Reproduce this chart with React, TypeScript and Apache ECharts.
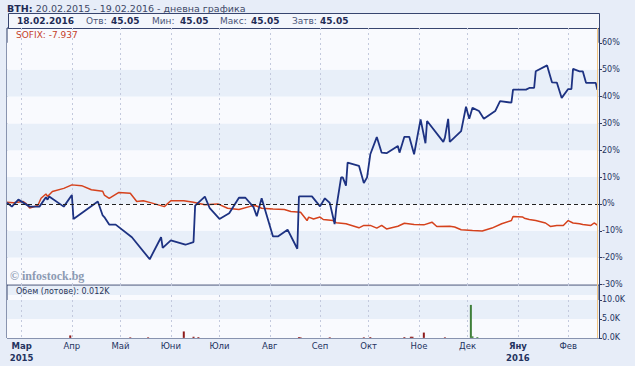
import React, { useEffect, useRef } from 'react';
import * as echarts from 'echarts';

// ---------- data ----------
const bthDates = [
  '2015-02-20','2015-02-23','2015-02-27','2015-03-06','2015-03-12','2015-03-16','2015-03-17','2015-03-18','2015-03-27','2015-04-01',
  '2015-04-02','2015-04-17','2015-04-20','2015-04-21','2015-04-24','2015-04-28','2015-05-08','2015-05-19','2015-05-26','2015-05-27',
  '2015-06-01','2015-06-10','2015-06-15','2015-06-16','2015-06-22','2015-06-25','2015-07-01','2015-07-07','2015-07-13','2015-07-17',
  '2015-07-22','2015-07-24','2015-07-27','2015-08-03','2015-08-06','2015-08-12','2015-08-18','2015-08-19','2015-08-27','2015-09-01',
  '2015-09-04','2015-09-07','2015-09-10','2015-09-11','2015-09-14','2015-09-15','2015-09-17','2015-09-18','2015-09-25','2015-09-28',
  '2015-09-30','2015-10-02','2015-10-06','2015-10-09','2015-10-12','2015-10-19','2015-10-20','2015-10-23','2015-10-26','2015-10-29',
  '2015-11-02','2015-11-05','2015-11-06','2015-11-16','2015-11-17','2015-11-19','2015-11-20','2015-11-27','2015-11-30','2015-12-02',
  '2015-12-04','2015-12-08','2015-12-11','2015-12-18','2015-12-21','2015-12-28','2015-12-29','2016-01-06','2016-01-08','2016-01-11',
  '2016-01-12','2016-01-19','2016-01-22','2016-01-25','2016-01-28','2016-02-01','2016-02-03','2016-02-04','2016-02-08','2016-02-10',
  '2016-02-12','2016-02-18','2016-02-19'
];
const bthValues = [
  0.5,-1.0,1.6,-1.0,-1.0,2.5,1.6,2.8,-1.0,3.3,
  -5.6,0.9,-4.3,-4.9,-7.7,-7.7,-12.4,-20.6,-12.4,-16.4,
  -13.6,-15.2,-14.2,-0.6,2.7,-1.6,-5.6,-3.5,2.3,2.3,
  -1.2,-4.6,2.1,-12.1,-12.1,-9.6,-16.7,2.8,2.8,-0.9,
  2.1,0.4,-7.5,-1.6,9.9,9.9,6.8,15.4,14.2,7.8,
  9.9,18.5,24.9,19.1,18.9,21.6,19.1,25.0,25.0,18.5,
  31.5,22.6,30.9,23.1,24.7,31.7,23.1,27.1,36.2,31.7,
  35.8,34.6,31.7,34.6,38.3,37.7,42.6,42.6,43.2,43.2,
  49.4,51.6,45.3,45.2,39.5,42.8,42.8,50.3,49.4,49.4,
  45.1,45.1,42.5
];

const sofixDates = [
  '2015-02-20','2015-02-24','2015-03-02','2015-03-04','2015-03-06','2015-03-11','2015-03-13','2015-03-16','2015-03-17','2015-03-20',
  '2015-03-27','2015-04-01','2015-04-07','2015-04-13','2015-04-20','2015-04-21','2015-04-24','2015-04-30','2015-05-07','2015-05-11',
  '2015-05-15','2015-05-20','2015-05-28','2015-06-01','2015-06-09','2015-06-15','2015-06-22','2015-06-30','2015-07-06','2015-07-13',
  '2015-07-20','2015-07-23','2015-07-27','2015-08-03','2015-08-10','2015-08-14','2015-08-20','2015-08-24','2015-08-25','2015-08-28',
  '2015-09-01','2015-09-03','2015-09-09','2015-09-11','2015-09-17','2015-09-22','2015-09-25','2015-09-28','2015-10-02','2015-10-06',
  '2015-10-09','2015-10-12','2015-10-19','2015-10-23','2015-10-29','2015-11-04','2015-11-09','2015-11-12','2015-11-20','2015-11-23',
  '2015-11-27','2015-12-04','2015-12-10','2015-12-16','2015-12-22','2015-12-28','2015-12-29','2016-01-04','2016-01-05','2016-01-08',
  '2016-01-12','2016-01-18','2016-01-21','2016-01-25','2016-01-29','2016-02-01','2016-02-04','2016-02-08','2016-02-10','2016-02-15',
  '2016-02-17','2016-02-19'
];
const sofixValues = [
  0.6,0.4,0.9,0.0,-1.5,-0.6,2.1,3.7,2.8,4.6,
  5.8,7.1,6.8,5.3,4.7,3.3,2.1,4.3,4.0,0.9,
  1.2,0.4,-1.0,1.2,1.2,0.6,-0.3,0.0,-1.6,-2.1,
  -0.9,-0.6,-1.6,-1.9,-2.1,-2.8,-3.1,-6.2,-4.9,-5.6,
  -4.9,-5.8,-6.2,-7.0,-7.4,-8.3,-8.9,-8.0,-8.0,-9.0,
  -8.0,-9.3,-8.3,-7.2,-7.7,-7.8,-6.8,-8.4,-8.3,-8.6,
  -9.6,-9.9,-10.1,-9.0,-7.4,-6.2,-4.7,-4.9,-5.3,-5.8,
  -6.2,-7.1,-8.4,-8.0,-8.0,-6.2,-7.1,-7.4,-7.7,-8.0,
  -7.1,-7.937
];

const volDates = [
  '2015-03-31','2015-05-07','2015-05-18','2015-06-09','2015-06-15','2015-06-18','2015-08-19','2015-08-20','2015-09-07','2015-09-28',
  '2015-10-02','2015-10-23','2015-10-27','2015-10-28','2015-11-04','2015-11-17','2015-12-03','2015-12-04','2015-12-07'
];
const volValues = [650, 150, 150, 1700, 300, 200, 200, 150, 150, 150, 200, 200, 300, 300, 1400, 150, 8700, 400, 200];
const volDirection = ['d','d','d','d','d','d','d','d','d','d','d','d','d','d','d','d','u','u','u'];

const monthTickDates = ['2015-03-01','2015-04-01','2015-05-01','2015-06-01','2015-07-01','2015-08-01','2015-09-01','2015-10-01','2015-11-01','2015-12-01','2016-01-01','2016-02-01'];
const monthLabels = ['Мар','Апр','Май','Юни','Юли','Авг','Сеп','Окт','Ное','Дек','Яну','Фев'];
const yearTickDates = ['2015-03-01','2016-01-01'];
const yearLabels = ['2015','2016'];

const rangeStart = '2015-02-20';
const rangeEnd = '2016-02-20';
const lastDate = '2016-02-19';

const pctTicks = { min: -30.2, max: 65.54 };
const pctLabelValues = [-30, -20, -10, 0, 10, 20, 30, 40, 50, 60];
const volTicks = { min: -30, max: 13950 };
const volLabelValues = [0, 5000, 10000];

const titleCode = 'BTH:';
const titleRest = '20.02.2015 - 19.02.2016 - дневна графика';
const infoDate = '18.02.2016';
const infoLabels = ['Отв:', 'Мин:', 'Макс:', 'Затв:'];
const infoValues = ['45.05', '45.05', '45.05', '45.05'];
const sofixText = 'SOFIX: -7.937';
const volText = 'Обем (лотове): 0.012K';
const watermark = '© infostock.bg';

// ---------- helpers ----------
const ts = (s: string) => {
  const [y, m, d] = s.split('-').map(Number);
  return Date.UTC(y, m - 1, d);
};

const FONT = 'DejaVu Sans';
const NAVY = '#24335f';
const WHITE = '#f9fafe';
const SHADE = '#e8eff9';

export default function App() {
  const ref = useRef<HTMLDivElement>(null);

  useEffect(() => {
    if (!ref.current) return;
    const chart = echarts.init(ref.current, undefined, { renderer: 'svg' });

    const tickTs = monthTickDates.map(ts);
    const yearTs = yearTickDates.map(ts);

    const xLabelFormatter = (v: number) => {
      const i = tickTs.findIndex((t) => Math.abs(t - v) < 3600e3 * 12);
      if (i < 0) return '';
      const yi = yearTs.findIndex((t) => Math.abs(t - v) < 3600e3 * 12);
      return yi >= 0 ? `{b|${monthLabels[i]}}\n{b|${yearLabels[yi]}}` : `{n|${monthLabels[i]}}`;
    };

    const bthData = bthDates.map((d, i) => [ts(d), bthValues[i]]);
    const sofixData = sofixDates.map((d, i) => [ts(d), sofixValues[i]]);
    const volData = volDates.map((d, i) => ({
      value: [ts(d), volValues[i]],
      itemStyle: { color: volDirection[i] === 'u' ? '#3f7f3a' : '#8e1b1b' },
    }));

    const orangeLine = {
      silent: true,
      symbol: ['none', 'none'],
      label: { show: false },
      lineStyle: { color: '#f1c583', type: 'solid', width: 1 },
      data: [{ xAxis: ts(lastDate) }],
    };

    const gridCommon = {
      left: 7,
      right: 36,
      show: true,
      backgroundColor: WHITE,
      borderColor: '#2b3a67',
      borderWidth: 1,
      outerBoundsMode: 'none',
      containLabel: false,
    };

    const xCommon = {
      type: 'value',
      min: ts(rangeStart),
      max: ts(rangeEnd),
      axisLine: { show: false },
      axisTick: { show: false, customValues: tickTs },
      splitLine: { show: true, lineStyle: { color: '#c3c9dd', type: [2, 3], width: 1 } },
    };

    const yLabelCommon = {
      showMinLabel: true,
      showMaxLabel: true,
      hideOverlap: false,
      fontFamily: FONT,
      fontSize: 8,
      color: NAVY,
      margin: 3,
    };

    const option: any = {
      animation: false,
      backgroundColor: '#e7edf8',
      grid: [
        { ...gridCommon, top: 28, height: 257 },
        { ...gridCommon, top: 285, height: 53 },
      ],
      xAxis: [
        { ...xCommon, gridIndex: 0, axisLabel: { show: false, customValues: tickTs } },
        {
          ...xCommon,
          gridIndex: 1,
          axisLabel: {
            show: true,
            customValues: tickTs,
            formatter: xLabelFormatter,
            margin: 2,
            showMinLabel: true,
            showMaxLabel: true,
            rich: {
              b: { fontFamily: FONT, fontSize: 8.5, fontWeight: 'bold', color: NAVY, lineHeight: 12 },
              n: { fontFamily: FONT, fontSize: 8.5, color: NAVY, lineHeight: 12 },
            },
          },
        },
      ],
      yAxis: [
        {
          type: 'value',
          gridIndex: 0,
          position: 'right',
          min: pctTicks.min,
          max: pctTicks.max,
          axisLine: { show: true, lineStyle: { color: '#2b3a67' } },
          axisTick: { show: true, length: 3, lineStyle: { color: '#2b3a67' }, customValues: pctLabelValues },
          axisLabel: {
            ...yLabelCommon,
            customValues: pctLabelValues,
            formatter: (v: number) => `${v}%`,
          },
          splitLine: { show: false },
          splitArea: {
            show: true,
            areaStyle: { color: [WHITE, SHADE, WHITE, SHADE, WHITE, SHADE, WHITE, SHADE, WHITE, WHITE] },
          },
        },
        {
          type: 'value',
          gridIndex: 1,
          position: 'right',
          min: volTicks.min,
          max: volTicks.max,
          axisLine: { show: true, lineStyle: { color: '#2b3a67' } },
          axisTick: { show: true, length: 3, lineStyle: { color: '#2b3a67' }, customValues: volLabelValues },
          axisLabel: {
            ...yLabelCommon,
            customValues: volLabelValues,
            formatter: (v: number) => `${(v / 1000).toFixed(1)}K`,
          },
          splitLine: { show: false },
          splitArea: { show: true, areaStyle: { color: [WHITE, SHADE, WHITE] } },
        },
      ],
      series: [
        {
          name: 'SOFIX',
          type: 'line',
          xAxisIndex: 0,
          yAxisIndex: 0,
          data: sofixData,
          showSymbol: false,
          symbol: 'none',
          lineStyle: { color: '#d5421d', width: 1.5 },
          z: 3,
        },
        {
          name: 'BTH',
          type: 'line',
          xAxisIndex: 0,
          yAxisIndex: 0,
          data: bthData,
          showSymbol: false,
          symbol: 'none',
          lineStyle: { color: '#1d3282', width: 1.8 },
          z: 4,
          markLine: {
            silent: true,
            symbol: ['none', 'none'],
            label: { show: false },
            data: [
              { yAxis: 0, lineStyle: { color: '#222', type: [4, 3], width: 1 } },
              { xAxis: ts(lastDate), lineStyle: { color: '#f1c583', type: 'solid', width: 1 } },
            ],
          },
        },
        {
          name: 'Volume',
          type: 'bar',
          xAxisIndex: 1,
          yAxisIndex: 1,
          data: volData,
          barWidth: 2,
          markLine: orangeLine,
        },
      ],
      graphic: [
        {
          type: 'text',
          x: 7,
          y: 8,
          style: {
            text: `{b|${titleCode}} {n|${titleRest}}`,
            verticalAlign: 'middle',
            rich: {
              b: { fontFamily: FONT, fontSize: 9.5, fontWeight: 'bold', fill: '#1f2c55' },
              n: { fontFamily: FONT, fontSize: 9.5, fill: '#3d4866' },
            },
          },
        },
        {
          type: 'rect',
          shape: { x: 8.5, y: 13.5, width: 591, height: 15 },
          style: { fill: '#f3f6fc', stroke: '#37456f', lineWidth: 1 },
        },
        {
          type: 'text',
          x: 17,
          y: 21,
          style: { text: infoDate, fontFamily: FONT, fontSize: 9, fontWeight: 'bold', fill: '#1f2c55', verticalAlign: 'middle' },
        },
        ...[86, 152, 220, 292].map((x, i) => ({
          type: 'text',
          x,
          y: 21,
          style: { text: infoLabels[i], fontFamily: FONT, fontSize: 9, fill: '#4a5577', verticalAlign: 'middle' },
        })),
        ...[111, 180, 251, 320].map((x, i) => ({
          type: 'text',
          x,
          y: 21,
          style: { text: infoValues[i], fontFamily: FONT, fontSize: 9, fontWeight: 'bold', fill: '#1f2c55', verticalAlign: 'middle' },
        })),
        {
          type: 'text',
          x: 16,
          y: 35,
          z: 10,
          style: { text: sofixText, fontFamily: FONT, fontSize: 9, fill: '#c5412b', verticalAlign: 'middle' },
        },
        {
          type: 'text',
          x: 10,
          y: 276,
          z: 10,
          style: { text: watermark, fontFamily: 'Liberation Serif', fontSize: 12, fontWeight: 'bold', fill: '#8d9ab3', verticalAlign: 'middle' },
        },
        {
          type: 'rect',
          z: 1,
          shape: { x: 8, y: 286, width: 590, height: 9 },
          style: { fill: SHADE },
        },
        {
          type: 'text',
          x: 16,
          y: 291,
          z: 10,
          style: { text: volText, fontFamily: FONT, fontSize: 8, fill: '#2b3658', verticalAlign: 'middle' },
        },
      ],
    };

    chart.setOption(option);
    return () => chart.dispose();
  }, []);

  return (
    <div
      ref={ref}
      style={{ position: 'absolute', left: 0, top: 0, width: 635, height: 366 }}
    />
  );
}
